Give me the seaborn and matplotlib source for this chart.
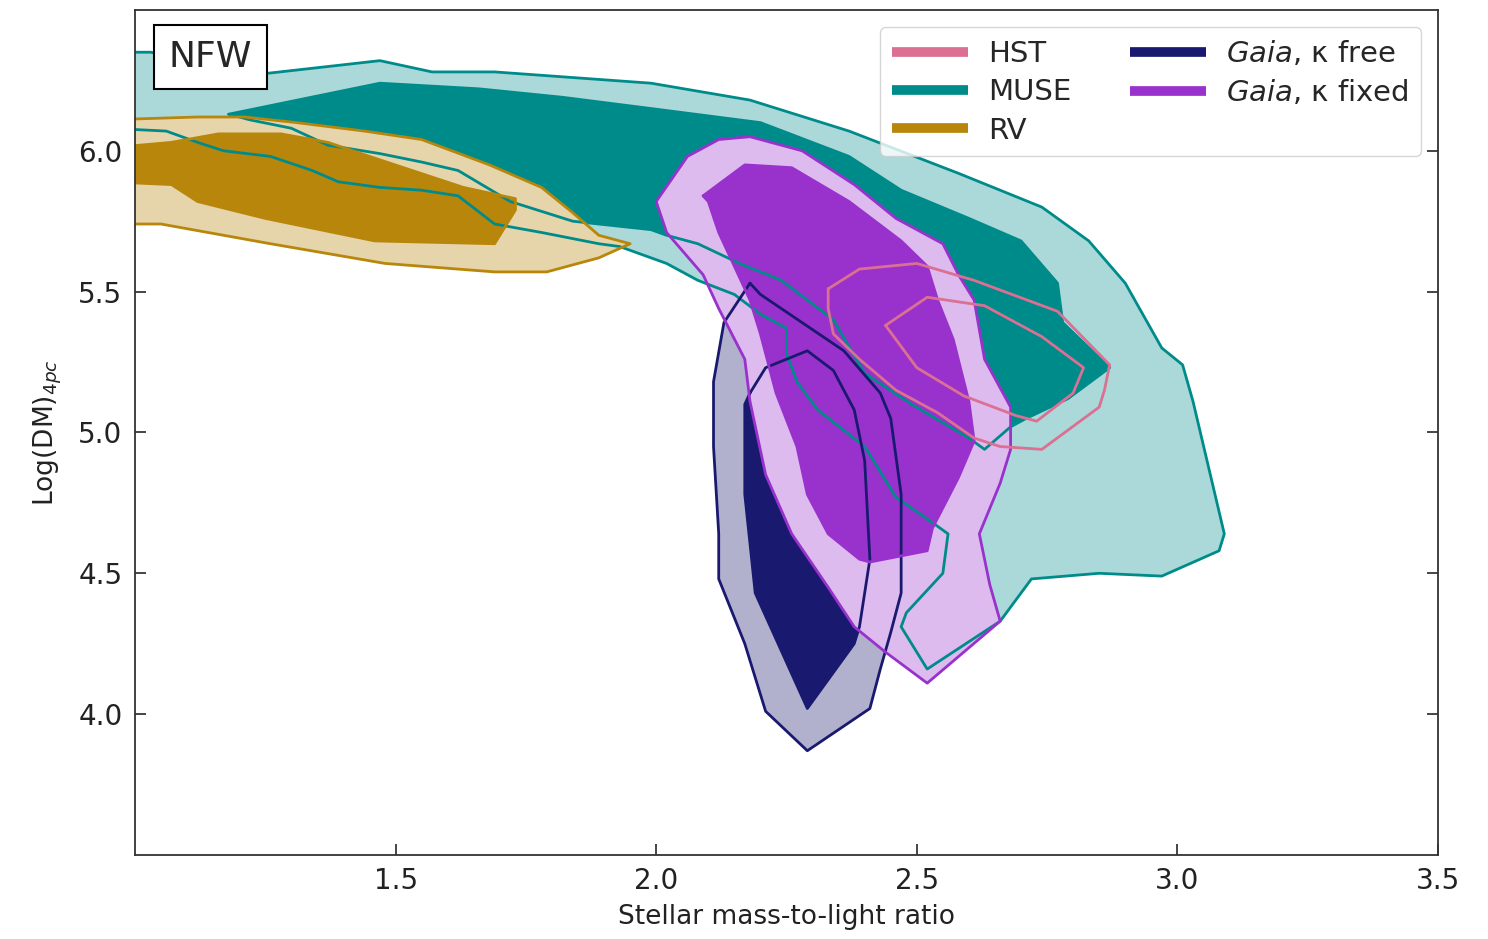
import numpy as np
import matplotlib
matplotlib.use("Agg")
import matplotlib.pyplot as plt
import matplotlib.colors as mcolors
from matplotlib.lines import Line2D
import seaborn as sns

# ── CONTOUR VERTICES ──────────────────────────────────────────────────────────
muse_outer_x = [0.95, 1.03, 1.23, 1.47, 1.57, 1.69, 1.99, 2.18, 2.37, 2.58, 2.74, 2.83,
                2.90, 2.97, 3.01, 3.03, 3.09, 3.08, 2.97, 2.85, 2.72, 2.66, 2.52, 2.47,
                2.48, 2.55, 2.56, 2.53, 2.46, 2.40, 2.31, 2.27, 2.25, 2.25, 2.20, 2.15,
                2.08, 2.02, 1.93, 1.89, 1.78, 1.69, 1.62, 1.55, 1.47, 1.39, 1.34, 1.26,
                1.17, 1.12, 1.06, 0.95]
muse_outer_y = [6.35, 6.35, 6.27, 6.32, 6.28, 6.28, 6.24, 6.18, 6.07, 5.92, 5.80, 5.68,
                5.53, 5.30, 5.24, 5.11, 4.64, 4.58, 4.49, 4.50, 4.48, 4.33, 4.16, 4.31,
                4.36, 4.50, 4.64, 4.68, 4.77, 4.95, 5.08, 5.18, 5.28, 5.37, 5.42, 5.49,
                5.54, 5.60, 5.66, 5.67, 5.71, 5.74, 5.84, 5.86, 5.87, 5.89, 5.93, 5.98,
                6.00, 6.03, 6.07, 6.08]

muse_inner_x = [1.18, 1.47, 1.66, 1.82, 1.99, 2.20, 2.37, 2.47, 2.60, 2.70, 2.77, 2.78,
                2.87, 2.79, 2.71, 2.68, 2.63, 2.60, 2.49, 2.40, 2.34, 2.24, 2.16, 2.08,
                2.02, 1.99, 1.84, 1.72, 1.62, 1.55, 1.47, 1.37, 1.30, 1.22]
muse_inner_y = [6.13, 6.24, 6.22, 6.19, 6.15, 6.10, 5.98, 5.86, 5.76, 5.68, 5.53, 5.39,
                5.23, 5.12, 5.05, 5.02, 4.94, 4.98, 5.10, 5.21, 5.40, 5.54, 5.60, 5.67,
                5.70, 5.72, 5.75, 5.82, 5.93, 5.96, 5.99, 6.02, 6.08, 6.11]

rv_outer_x = [0.95, 1.12, 1.21, 1.31, 1.44, 1.55, 1.68, 1.78, 1.84, 1.89, 1.95, 1.89,
              1.79, 1.69, 1.48, 1.26, 1.05, 0.95]
rv_outer_y = [6.11, 6.12, 6.12, 6.10, 6.07, 6.04, 5.95, 5.87, 5.78, 5.70, 5.67, 5.62,
              5.57, 5.57, 5.60, 5.67, 5.74, 5.74]

rv_inner_x = [0.95, 1.07, 1.16, 1.28, 1.37, 1.45, 1.63, 1.73, 1.73, 1.69, 1.46, 1.25,
              1.12, 1.07, 0.95]
rv_inner_y = [6.01, 6.03, 6.06, 6.06, 6.03, 5.98, 5.87, 5.83, 5.79, 5.67, 5.68, 5.76,
              5.82, 5.88, 5.89]

gaia_free_outer_x = [2.18, 2.20, 2.36, 2.43, 2.45, 2.47, 2.47, 2.45, 2.43, 2.41, 2.29,
                     2.21, 2.17, 2.12, 2.12, 2.11, 2.11, 2.13]
gaia_free_outer_y = [5.53, 5.49, 5.29, 5.14, 5.05, 4.78, 4.43, 4.29, 4.16, 4.02, 3.87,
                     4.01, 4.25, 4.48, 4.64, 4.95, 5.18, 5.39]

gaia_free_inner_x = [2.18, 2.21, 2.29, 2.34, 2.38, 2.40, 2.41, 2.39, 2.38, 2.29, 2.19,
                     2.17, 2.17]
gaia_free_inner_y = [5.14, 5.23, 5.29, 5.22, 5.08, 4.90, 4.55, 4.31, 4.25, 4.02, 4.43,
                     4.78, 5.10]

gaia_fixed_outer_x = [2.00, 2.06, 2.12, 2.18, 2.28, 2.38, 2.46, 2.55, 2.58, 2.61, 2.63,
                      2.68, 2.68, 2.66, 2.62, 2.64, 2.66, 2.52, 2.44, 2.38, 2.33, 2.26,
                      2.21, 2.18, 2.17, 2.12, 2.09, 2.02]
gaia_fixed_outer_y = [5.82, 5.98, 6.04, 6.05, 6.00, 5.88, 5.76, 5.67, 5.56, 5.47, 5.26,
                      5.09, 4.94, 4.82, 4.64, 4.46, 4.33, 4.11, 4.22, 4.31, 4.45, 4.64,
                      4.85, 5.11, 5.26, 5.44, 5.56, 5.71]

gaia_fixed_inner_x = [2.09, 2.17, 2.26, 2.37, 2.47, 2.52, 2.54, 2.57, 2.60, 2.61, 2.58,
                      2.53, 2.52, 2.41, 2.39, 2.33, 2.29, 2.27, 2.23, 2.20, 2.18, 2.12,
                      2.10]
gaia_fixed_inner_y = [5.84, 5.95, 5.94, 5.82, 5.68, 5.59, 5.47, 5.33, 5.11, 4.97, 4.84,
                      4.66, 4.58, 4.54, 4.55, 4.64, 4.78, 4.95, 5.14, 5.35, 5.47, 5.71,
                      5.82]

hst_outer_x = [2.33, 2.39, 2.50, 2.61, 2.77, 2.87, 2.86, 2.85, 2.74, 2.66, 2.61, 2.54,
               2.46, 2.39, 2.34, 2.33]
hst_outer_y = [5.51, 5.58, 5.60, 5.54, 5.43, 5.24, 5.15, 5.09, 4.94, 4.95, 4.98, 5.07,
               5.15, 5.26, 5.35, 5.44]

hst_inner_x = [2.44, 2.52, 2.63, 2.74, 2.82, 2.80, 2.73, 2.69, 2.59, 2.50]
hst_inner_y = [5.38, 5.48, 5.45, 5.34, 5.23, 5.14, 5.04, 5.06, 5.13, 5.23]

labels = ["HST", "MUSE", "RV", r"$\it{Gaia}$, κ free", r"$\it{Gaia}$, κ fixed"]
colors = ["#db7093", "#008b8b", "#b8860b", "#191970", "#9932cc"]

x_ticks = [1.5, 2.0, 2.5, 3.0, 3.5]
y_ticks = [4.0, 4.5, 5.0, 5.5, 6.0]


def light(c, a=0.35):
    rgb = np.array(mcolors.to_rgb(c))
    return tuple(1 - a * (1 - rgb))


def closed(xs, ys):
    return list(xs) + [xs[0]], list(ys) + [ys[0]]


# ── FIGURE ────────────────────────────────────────────────────────────────────
sns.set_style("ticks")
plt.rcParams["font.family"] = ["DejaVu Sans"]

fig = plt.figure(figsize=(14.88, 9.39), dpi=100)
ax = fig.add_axes([0.0907, 0.0895, 0.8757, 0.8999])

c_hst, c_muse, c_rv, c_free, c_fixed = colors

# fills first (outer light, inner solid), then all outlines on top
fills = [
    (muse_outer_x, muse_outer_y, light(c_muse, 0.33)),
    (muse_inner_x, muse_inner_y, c_muse),
    (rv_outer_x, rv_outer_y, light(c_rv)),
    (rv_inner_x, rv_inner_y, c_rv),
    (gaia_free_outer_x, gaia_free_outer_y, light(c_free, 0.34)),
    (gaia_free_inner_x, gaia_free_inner_y, c_free),
    (gaia_fixed_outer_x, gaia_fixed_outer_y, light(c_fixed, 0.33)),
    (gaia_fixed_inner_x, gaia_fixed_inner_y, c_fixed),
]
for xs, ys, col in fills:
    ax.fill(xs, ys, color=col, lw=0)

outlines = [
    (muse_outer_x, muse_outer_y, c_muse),
    (muse_inner_x, muse_inner_y, c_muse),
    (rv_outer_x, rv_outer_y, c_rv),
    (rv_inner_x, rv_inner_y, c_rv),
    (gaia_free_outer_x, gaia_free_outer_y, c_free),
    (gaia_free_inner_x, gaia_free_inner_y, c_free),
    (gaia_fixed_outer_x, gaia_fixed_outer_y, c_fixed),
    (gaia_fixed_inner_x, gaia_fixed_inner_y, c_fixed),
    (hst_outer_x, hst_outer_y, c_hst),
    (hst_inner_x, hst_inner_y, c_hst),
]
for xs, ys, col in outlines:
    cx, cy = closed(xs, ys)
    sns.lineplot(x=cx, y=cy, sort=False, estimator=None, color=col,
                 linewidth=2.0, ax=ax)

ax.set_xlim(1.0, 3.5)
ax.set_ylim(3.5, 6.5)
ax.set_xticks(x_ticks)
ax.set_yticks(y_ticks)
ax.set_xticklabels([f"{t:.1f}" for t in x_ticks])
ax.set_yticklabels([f"{t:.1f}" for t in y_ticks])
ax.tick_params(direction="in", length=8, width=1.2, labelsize=20, pad=9,
               right=True, labelcolor="#222222")
for s in ax.spines.values():
    s.set_linewidth(1.3)
    s.set_color("#333333")

ax.set_xlabel("Stellar mass-to-light ratio", fontsize=19, labelpad=6,
              color="#222222")
ax.set_ylabel(r"Log(DM)$_{4pc}$", fontsize=19, labelpad=10, color="#222222")

ax.text(0.058, 0.944, "NFW", transform=ax.transAxes, fontsize=26,
        ha="center", va="center",
        bbox=dict(boxstyle="square,pad=0.42", fc="white", ec="black", lw=1.5))

handles = [Line2D([0], [0], color=c, lw=7, solid_capstyle="butt") for c in colors]
ax.legend(handles, labels, loc="upper right", ncol=2, fontsize=21,
          handlelength=2.6, handletextpad=0.7, columnspacing=2.0,
          labelspacing=0.35, framealpha=0.8, borderaxespad=0.6)

fig.savefig("out.png", dpi=100)
